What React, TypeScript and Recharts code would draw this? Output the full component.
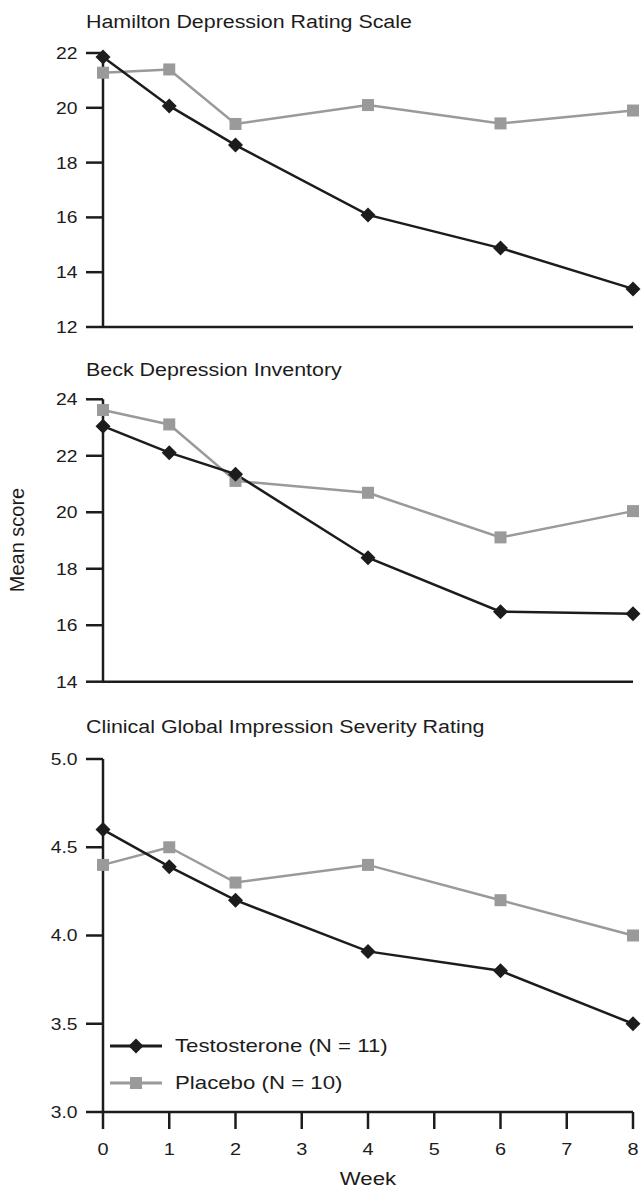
import React from 'react';
import { LineChart, Line, XAxis, YAxis, Legend } from 'recharts';

// Assessment weeks
const weeks = [0, 1, 2, 4, 6, 8];
const weekTicks = [0, 1, 2, 3, 4, 5, 6, 7, 8];

// Hamilton Depression Rating Scale (mean score)
const hamTestosterone = [21.85, 20.07, 18.64, 16.09, 14.88, 13.39];
const hamPlacebo = [21.28, 21.4, 19.41, 20.1, 19.43, 19.9];
const hamTicks = [12, 14, 16, 18, 20, 22];

// Beck Depression Inventory (mean score)
const beckTestosterone = [23.05, 22.11, 21.35, 18.39, 16.48, 16.41];
const beckPlacebo = [23.62, 23.11, 21.11, 20.69, 19.11, 20.04];
const beckTicks = [14, 16, 18, 20, 22, 24];

// Clinical Global Impression Severity Rating (mean score)
const cgiTestosterone = [4.6, 4.39, 4.2, 3.91, 3.8, 3.5];
const cgiPlacebo = [4.4, 4.5, 4.3, 4.4, 4.2, 4.0];
const cgiTicks = [3.0, 3.5, 4.0, 4.5, 5.0];

const seriesNames = ['Testosterone (N = 11)', 'Placebo (N = 10)'];

const INK = '#1c1c1c';
const GRAY = '#9a9a9a';
const FONT = '"Liberation Sans", Arial, Helvetica, sans-serif';
const STRETCH = 1.17;

const buildRows = (t: number[], p: number[]) =>
  weeks.map((w, i) => ({ week: w, testosterone: t[i], placebo: p[i] }));

const diamondDot = (props: any) => {
  const { cx, cy, index } = props;
  if (cx == null || cy == null) return <g key={`d-${index}`} />;
  const r = 7.5;
  return (
    <polygon
      key={`d-${index}`}
      points={`${cx},${cy - r} ${cx + r},${cy} ${cx},${cy + r} ${cx - r},${cy}`}
      fill={INK}
    />
  );
};

const squareDot = (props: any) => {
  const { cx, cy, index } = props;
  if (cx == null || cy == null) return <g key={`s-${index}`} />;
  const s = 12;
  return <rect key={`s-${index}`} x={cx - s / 2} y={cy - s / 2} width={s} height={s} fill={GRAY} />;
};

const makeYTick = (digits: number) => (props: any) => {
  const { x, y, payload } = props;
  return (
    <text
      transform={`translate(${x},${y}) scale(${STRETCH},1)`}
      textAnchor="end"
      dy="0.36em"
      fontSize={16.5}
      fontFamily={FONT}
      fill={INK}
      stroke="none"
    >
      {Number(payload.value).toFixed(digits)}
    </text>
  );
};

const XTick = (props: any) => {
  const { x, y, payload } = props;
  return (
    <text
      transform={`translate(${x},${y}) scale(${STRETCH},1)`}
      textAnchor="middle"
      dy="0.71em"
      fontSize={17}
      fontFamily={FONT}
      fill={INK}
      stroke="none"
    >
      {payload.value}
    </text>
  );
};

const LegendBox = () => (
  <div style={{ fontFamily: FONT, color: INK }}>
    {seriesNames.map((name, i) => (
      <div key={name} style={{ display: 'flex', alignItems: 'center', height: 37 }}>
        <svg width={52} height={20} style={{ display: 'block' }}>
          <line x1={0} x2={52} y1={10} y2={10} stroke={i === 0 ? INK : GRAY} strokeWidth={3} />
          {i === 0 ? (
            <polygon points="26,2.5 33.5,10 26,17.5 18.5,10" fill={INK} />
          ) : (
            <rect x={20} y={4} width={12} height={12} fill={GRAY} />
          )}
        </svg>
        <span
          style={{
            marginLeft: 13,
            fontSize: 19,
            lineHeight: 1,
            display: 'inline-block',
            whiteSpace: 'nowrap',
            transform: `scaleX(${STRETCH})`,
            transformOrigin: 'left center',
          }}
        >
          {name}
        </span>
      </div>
    ))}
  </div>
);

const axisStroke = { stroke: INK, strokeWidth: 2.5 };

type PanelProps = {
  top: number;
  height: number;
  marginTop: number;
  marginBottom: number;
  rows: any[];
  yDomain: [number, number];
  yTicks: number[];
  digits: number;
  showWeeks?: boolean;
  showLegend?: boolean;
};

const Panel = ({ top, height, marginTop, marginBottom, rows, yDomain, yTicks, digits, showWeeks, showLegend }: PanelProps) => (
  <div style={{ position: 'absolute', left: 0, top, width: 643, height }}>
    <LineChart
      width={643}
      height={height}
      data={rows}
      margin={{ top: marginTop, right: 10, bottom: marginBottom, left: 0 }}
    >
      <XAxis
        dataKey="week"
        type="number"
        domain={[0, 8]}
        ticks={weekTicks}
        interval={0}
        stroke={INK}
        strokeWidth={2.5}
        axisLine={axisStroke}
        tickLine={showWeeks ? axisStroke : false}
        tick={showWeeks ? <XTick /> : false}
        tickSize={showWeeks ? 17 : 0}
        tickMargin={14}
        height={showWeeks ? 78 : 2}
      />
      <YAxis
        type="number"
        domain={yDomain}
        ticks={yTicks}
        interval={0}
        width={103}
        stroke={INK}
        strokeWidth={2.5}
        axisLine={axisStroke}
        tickLine={axisStroke}
        tickSize={17}
        tickMargin={8.5}
        tick={makeYTick(digits)}
      />
      {showLegend && (
        <Legend
          layout="vertical"
          align="center"
          verticalAlign="middle"
          wrapperStyle={{ left: 110, top: 327, width: 320, height: 74 }}
          content={() => <LegendBox />}
        />
      )}
      <Line
        type="linear"
        dataKey="placebo"
        name={seriesNames[1]}
        stroke={GRAY}
        strokeWidth={2.5}
        dot={squareDot}
        activeDot={false}
        isAnimationActive={false}
      />
      <Line
        type="linear"
        dataKey="testosterone"
        name={seriesNames[0]}
        stroke={INK}
        strokeWidth={2.5}
        dot={diamondDot}
        activeDot={false}
        isAnimationActive={false}
      />
    </LineChart>
  </div>
);

export default function App() {
  return (
    <div
      style={{
        position: 'absolute',
        left: 0,
        top: 0,
        width: 643,
        height: 1190,
        background: '#ffffff',
        fontFamily: FONT,
      }}
    >
      <Panel
        top={0}
        height={340}
        marginTop={53}
        marginBottom={11}
        rows={buildRows(hamTestosterone, hamPlacebo)}
        yDomain={[12, 22]}
        yTicks={hamTicks}
        digits={0}
      />
      <Panel
        top={340}
        height={360}
        marginTop={59.3}
        marginBottom={16.3}
        rows={buildRows(beckTestosterone, beckPlacebo)}
        yDomain={[14, 24]}
        yTicks={beckTicks}
        digits={0}
      />
      <Panel
        top={700}
        height={490}
        marginTop={59}
        marginBottom={0}
        rows={buildRows(cgiTestosterone, cgiPlacebo)}
        yDomain={[3, 5]}
        yTicks={cgiTicks}
        digits={1}
        showWeeks
        showLegend
      />
      <svg
        width={643}
        height={1190}
        style={{ position: 'absolute', left: 0, top: 0, pointerEvents: 'none' }}
      >
        <g fontFamily={FONT} fill={INK}>
          <text transform={`translate(86,28.3) scale(1.19,1)`} fontSize={18}>
            Hamilton Depression Rating Scale
          </text>
          <text transform={`translate(86,375.7) scale(1.19,1)`} fontSize={18}>
            Beck Depression Inventory
          </text>
          <text transform={`translate(86,733.3) scale(1.19,1)`} fontSize={18}>
            Clinical Global Impression Severity Rating
          </text>
          <text transform="translate(24,540) rotate(-90)" textAnchor="middle" fontSize={20}>
            Mean score
          </text>
          <text transform={`translate(368,1185) scale(${STRETCH},1)`} textAnchor="middle" fontSize={19}>
            Week
          </text>
        </g>
      </svg>
    </div>
  );
}
